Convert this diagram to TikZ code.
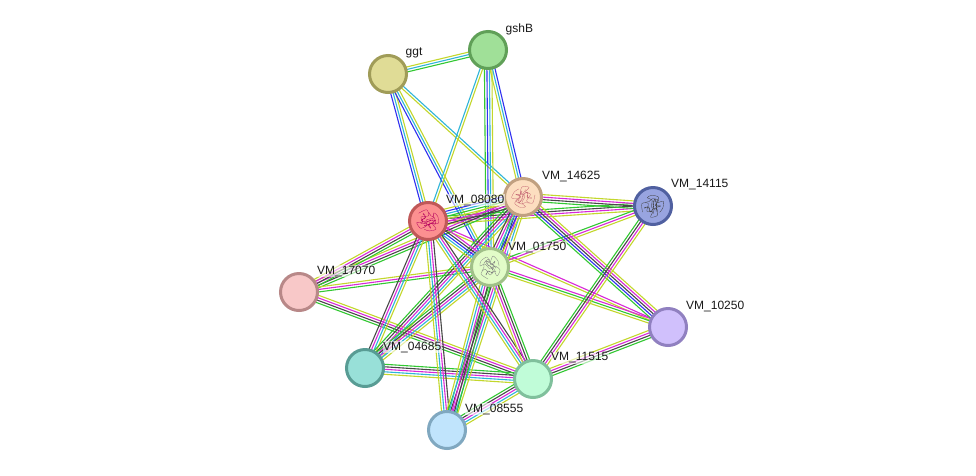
\documentclass[tikz,border=0pt]{standalone}
\usepackage{fontspec}
\setmainfont{Liberation Sans}
\usetikzlibrary{calc,backgrounds}
\definecolor{ey}{HTML}{C3D72C}
\definecolor{eg}{HTML}{32C832}
\definecolor{eb}{HTML}{3030F0}
\definecolor{ec}{HTML}{2FB5D8}
\definecolor{em}{HTML}{D828D8}
\definecolor{ek}{HTML}{484848}
\definecolor{fA}{HTML}{A0E098}\definecolor{dA}{HTML}{60A058}
\definecolor{fB}{HTML}{E0DC96}\definecolor{dB}{HTML}{A09C58}
\definecolor{fC}{HTML}{FCDEC0}\definecolor{dC}{HTML}{C0A080}
\definecolor{fD}{HTML}{98A4E0}\definecolor{dD}{HTML}{5060A0}
\definecolor{fE}{HTML}{FC9090}\definecolor{dE}{HTML}{C05858}
\definecolor{fF}{HTML}{E2FCC8}\definecolor{dF}{HTML}{A0C088}
\definecolor{fG}{HTML}{F8C8C8}\definecolor{dG}{HTML}{B88888}
\definecolor{fH}{HTML}{D0C0FC}\definecolor{dH}{HTML}{9080C0}
\definecolor{fI}{HTML}{98E0D8}\definecolor{dI}{HTML}{589C94}
\definecolor{fJ}{HTML}{C0FCD8}\definecolor{dJ}{HTML}{80C09C}
\definecolor{fK}{HTML}{C0E4FC}\definecolor{dK}{HTML}{80A8C0}
\tikzset{
  x=1pt,y=-1pt,
  protein/.style 2 args={circle,draw=#2,fill=#1,line width=3pt,minimum size=37pt,inner sep=0pt},
  tag/.style={anchor=west,inner sep=0.5pt,fill=white,fill opacity=.6,text opacity=1,font=\fontsize{12}{12}\selectfont,text=black!90},
  strand/.style={line width=1.1pt},
  fold/.style={line width=.3pt,line join=round},
}
% A bundle of parallel evidence lines between two proteins
\newcounter{strandcount}
\newcommand\bundle[3]{%
  \setcounter{strandcount}{0}%
  \foreach \c in {#3}{\stepcounter{strandcount}\global\edef\strandtotal{\arabic{strandcount}}}%
  \foreach \c [count=\i] in {#3}{%
    \pgfmathsetmacro\off{(\i-(\strandtotal+1)/2)*2.5}%
    \draw[strand,\c] ($(#1.center)!\off pt!90:(#2.center)$) -- ($(#2.center)!\off pt!-90:(#1.center)$);
  }%
}
% Ribbon sketch of a folded structure inside a protein disc
\newcommand\foldsketch[3]{%
  \begin{scope}[shift={(#1.center)},rotate=#3]
    \draw[fold,#2,smooth] plot coordinates {(-12,-2) (-7,-9) (-2,-5) (-8,0) (-4,4) (-9,7) (-3,10) (1,5) (-2,0) (3,-5) (1,-10) (6,-9) (10,-3) (5,0) (11,3) (6,8) (1,9)};
    \draw[fold,#2,line width=.8pt,dash pattern=on 2pt off .6pt,smooth] plot coordinates {(-8,-4) (-4,-2) (-6,3) (-1,2) (2,-2) (6,-4) (3,2) (-1,6)};
    \draw[fold,#2,smooth] plot coordinates {(-4,-8) (0,-6) (4,-6) (8,-1) (2,1) (6,5) (0,3) (-5,6)};
  \end{scope}%
}
\begin{document}
\begin{tikzpicture}
\useasboundingbox (0,0) rectangle (976,475);
% Protein discs
\node[protein={fA}{dA}] (gshB) at (488,50) {};
\node[protein={fB}{dB}] (ggt) at (388,74) {};
\node[protein={fC}{dC}] (p14625) at (523,197) {};
\node[protein={fD}{dD}] (p14115) at (653,206) {};
\node[protein={fE}{dE}] (p08080) at (428,221) {};
\node[protein={fF}{dF}] (p01750) at (490,267) {};
\node[protein={fG}{dG}] (p17070) at (299,292) {};
\node[protein={fH}{dH}] (p10250) at (668,327) {};
\node[protein={fI}{dI}] (p04685) at (365,368) {};
\node[protein={fJ}{dJ}] (p11515) at (533,379) {};
\node[protein={fK}{dK}] (p08555) at (447,430) {};
% Evidence bundles, beneath the discs
\begin{pgfonlayer}{background}
\fill[white] (0,0) rectangle (976,475);
\bundle{ggt}{gshB}{eg,ec,ey}
\bundle{ggt}{p08080}{eb,ec,ey}
\bundle{ggt}{p01750}{eb,ec,ey}
\bundle{ggt}{p14625}{ey,ec}
\bundle{gshB}{p08080}{ec,ey}
\bundle{gshB}{p01750}{eg,eb,ec,ey}
\bundle{gshB}{p14625}{ey,ec,eb}
\bundle{p08080}{p14115}{ey,em,ek,eg}
\bundle{p08080}{p10250}{ey,em}
\bundle{p01750}{p14115}{ey,em,eg}
\bundle{p01750}{p10250}{ey,eg,em}
\bundle{p14625}{p14115}{eg,ek,em,ey}
\bundle{p14625}{p10250}{eg,eb,ek,em,ey}
\bundle{p17070}{p14625}{eg,ek,em,ey}
\bundle{p17070}{p08080}{eg,ek,em,ey}
\bundle{p17070}{p01750}{eg,em,ey}
\bundle{p17070}{p11515}{eg,ek,em,ey}
\bundle{p04685}{p08080}{ey,ec,em,ek}
\bundle{p04685}{p14625}{ey,ec,em,ek,eg}
\bundle{p04685}{p01750}{ey,ec,em,ek,eg}
\bundle{p04685}{p11515}{ey,ec,em,ek,eg}
\bundle{p08555}{p08080}{ek,em,ec,ey}
\bundle{p08555}{p14625}{ey,ec,em,ek,eg}
\bundle{p08555}{p01750}{eg,ek,em,ec,ey}
\bundle{p08555}{p11515}{ey,ec,em,ek,eg}
\bundle{p08080}{p14625}{ek,em,ey,eg,ec,eb,ey}
\bundle{p08080}{p01750}{ey,ec,eb,ek,em}
\bundle{p08080}{p11515}{ey,ec,em,ek}
\bundle{p14625}{p01750}{ek,em,ec,eb,ey}
\bundle{p01750}{p11515}{ey,em,ek,eg}
\bundle{p11515}{p10250}{eg,ek,em,ey}
\bundle{p11515}{p14115}{ey,em,ek,eg}
\end{pgfonlayer}
% Structure sketches
\foldsketch{p14625}{black!20!magenta!45!brown}{200}
\foldsketch{p14115}{black!75}{40}
\foldsketch{p08080}{black!15!purple!80!magenta}{-30}
\foldsketch{p01750}{black!50}{90}
% Labels
\node[tag] (lgshB) at (505,29) {gshB};
\node[tag] (lggt) at (405,53) {ggt};
\node[tag] (l14625) at (541.5,176) {VM\_14625};
\node[tag] (l14115) at (670.5,185) {VM\_14115};
\node[tag] (l08080) at (445.5,200) {VM\_08080};
\node[tag] (l01750) at (507.5,247) {VM\_01750};
\node[tag] (l17070) at (316.5,271) {VM\_17070};
\node[tag] (l10250) at (685.5,306) {VM\_10250};
\node[tag] (l04685) at (382.5,347) {VM\_04685};
\node[tag] (l11515) at (550.5,358) {VM\_11515};
\node[tag] (l08555) at (464.5,409) {VM\_08555};
\end{tikzpicture}
\end{document}
